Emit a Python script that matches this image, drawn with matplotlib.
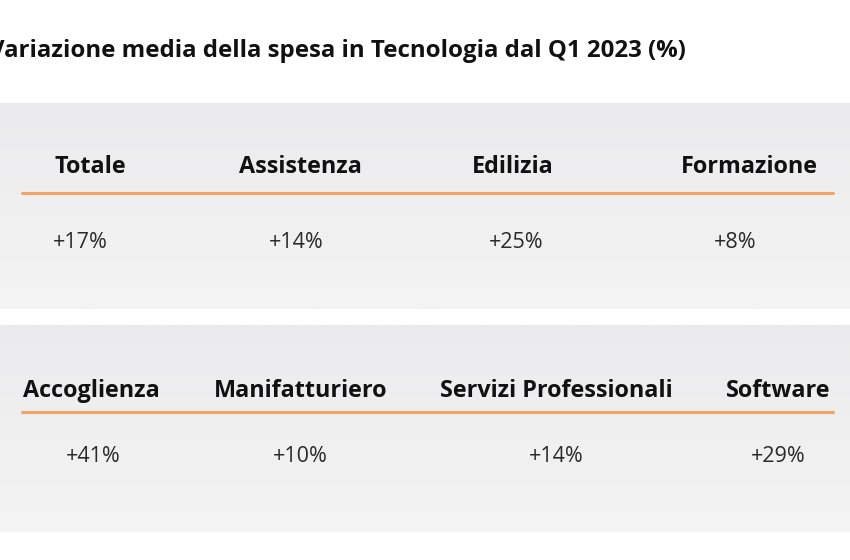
import matplotlib
matplotlib.use("Agg")
import matplotlib.pyplot as plt
import numpy as np
from matplotlib.colors import LinearSegmentedColormap

title = "Variazione media della spesa in Tecnologia dal Q1 2023 (%)"
sectors_row1 = ["Totale", "Assistenza", "Edilizia", "Formazione"]
values_row1 = [17, 14, 25, 8]
sectors_row2 = ["Accoglienza", "Manifatturiero", "Servizi Professionali", "Software"]
values_row2 = [41, 10, 14, 29]

W, H = 850, 560
fig = plt.figure(figsize=(W / 100, H / 100), dpi=100)
ax = fig.add_axes([0, 0, 1, 1])
ax.set_xlim(0, W)
ax.set_ylim(H, 0)
ax.axis("off")

FONT = "Open Sans"
cmap = LinearSegmentedColormap.from_list("panel", ["#ebebed", "#f4f4f4"])
grad = np.linspace(0, 1, 100).reshape(-1, 1)

# layout (pixels)
panels = [
    dict(top=103, bottom=309, head_y=167, line_y=193, val_y=242,
         head_x=[90, 300, 513, 749], val_x=[80, 296, 516, 735],
         names=sectors_row1, vals=values_row1),
    dict(top=325, bottom=532, head_y=391, line_y=412, val_y=457,
         head_x=[91, 301, 556, 778], val_x=[93, 300, 556, 778],
         names=sectors_row2, vals=values_row2),
]

ax.text(-11, 51, title, fontsize=17.3, fontweight="bold", family=FONT,
        color="#111111", ha="left", va="center")

for p in panels:
    ax.imshow(grad, cmap=cmap, extent=[0, W, p["bottom"], p["top"]],
              aspect="auto", zorder=0, interpolation="bilinear")
    ax.plot([22, 833], [p["line_y"], p["line_y"]], color="#f2a466", lw=2.2,
            solid_capstyle="round", zorder=2)
    for name, x in zip(p["names"], p["head_x"]):
        ax.text(x, p["head_y"], name, fontsize=16.8, fontweight="bold", family=FONT,
                color="#111111", ha="center", va="center", zorder=3)
    for v, x in zip(p["vals"], p["val_x"]):
        ax.text(x, p["val_y"], f"+{v}%", fontsize=15.5, fontweight="normal", family=FONT,
                color="#2a2a2a", ha="center", va="center", zorder=3)

ax.set_xlim(0, W)
ax.set_ylim(H, 0)
fig.savefig("out.png", dpi=100, facecolor="white")
